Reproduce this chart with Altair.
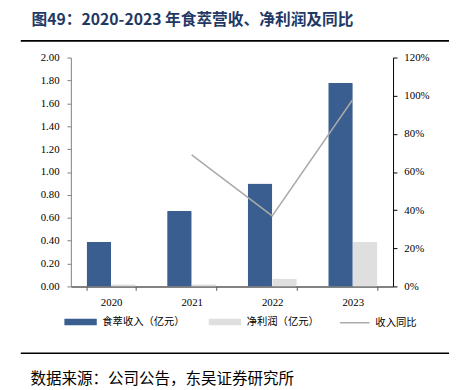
import altair as alt
import pandas as pd

years = ['2020', '2021', '2022', '2023']
revenue = [0.39, 0.66, 0.90, 1.78]
profit = [0.02, 0.02, 0.07, 0.39]
yoy_years = ['2021', '2022', '2023']
yoy = [0.69, 0.37, 0.98]
series = ['食萃收入（亿元）', '净利润（亿元）']
line_name = '收入同比'
title_text = '图49：2020-2023 年食萃营收、净利润及同比'
source_text = '数据来源：公司公告，东吴证券研究所'
left_ticks = [0, 0.2, 0.4, 0.6, 0.8, 1.0, 1.2, 1.4, 1.6, 1.8, 2.0]
right_ticks = [0, 0.2, 0.4, 0.6, 0.8, 1.0, 1.2]

bars_df = pd.DataFrame({
    'year': years * 2,
    'value': revenue + profit,
    'series': [series[0]] * len(years) + [series[1]] * len(years),
})
line_df = pd.DataFrame({'year': yoy_years, 'yoy': yoy, 'name': [line_name] * len(yoy_years)})

NUM_FONT = 'Liberation Serif'
CJK_FONT = 'Noto Sans CJK SC'

x_enc = alt.X('year:N', scale=alt.Scale(domain=years, paddingInner=0.39, paddingOuter=0.195),
              axis=alt.Axis(title=None, labelAngle=0, tickBand='extent', labelFont=NUM_FONT,
                            labelFontSize=11, labelColor='#000000', labelPadding=6,
                            domainColor='#595959', domainWidth=1.5, tickColor='#595959',
                            tickSize=4, tickWidth=1))

bars = alt.Chart(bars_df).mark_bar(cornerRadius=1).encode(
    x=x_enc,
    xOffset=alt.XOffset('series:N', scale=alt.Scale(domain=series, paddingInner=0, paddingOuter=0)),
    y=alt.Y('value:Q', scale=alt.Scale(domain=[0, 2], nice=False),
            axis=alt.Axis(title=None, values=left_ticks, format='.2f', grid=False,
                          labelFont=NUM_FONT, labelFontSize=11, labelColor='#000000',
                          labelPadding=8, domainColor='#7F7F7F', tickColor='#7F7F7F',
                          tickSize=4)),
    color=alt.Color('series:N', scale=alt.Scale(domain=series, range=['#3A5E8F', '#DFDFDF']),
                    legend=alt.Legend(title=None, orient='none', legendX=-7, legendY=262,
                                      direction='horizontal',
                                      symbolType='M-1,-0.5H4V0.5H-1Z', symbolSize=174,
                                      symbolStrokeWidth=0, labelOffset=25,
                                      labelFont=CJK_FONT, labelFontSize=10.5,
                                      labelColor='#000000', columnPadding=24)),
)

line = alt.Chart(line_df).mark_line(strokeWidth=1.5).encode(
    x=alt.X('year:N', scale=alt.Scale(domain=years)),
    y=alt.Y('yoy:Q', scale=alt.Scale(domain=[0, 1.2], nice=False),
            axis=alt.Axis(title=None, orient='right', values=right_ticks, format='.0%',
                          grid=False, labelFont=NUM_FONT, labelFontSize=11,
                          labelColor='#000000', labelPadding=7, domainColor='#000000',
                          tickColor='#000000', tickSize=4)),
    stroke=alt.Stroke('name:N', scale=alt.Scale(domain=[line_name], range=['#AAAAAA']),
                      legend=alt.Legend(title=None, orient='none', legendX=273, legendY=254,
                                        symbolType='stroke', symbolSize=900,
                                        symbolStrokeWidth=1.5, labelOffset=5,
                                        labelFont=CJK_FONT, labelFontSize=10.5,
                                        labelColor='#000000')),
)

deco_df = pd.DataFrame({'t': [title_text], 's': [source_text]})
title = alt.Chart(deco_df).mark_text(align='left', baseline='middle', font=CJK_FONT,
                                     fontSize=16, fontWeight='bold', color='#1F3864').encode(
    x=alt.value(-40), y=alt.value(-38), text='t:N')
source = alt.Chart(deco_df).mark_text(align='left', baseline='middle', font=CJK_FONT,
                                      fontSize=15.8, color='#000000').encode(
    x=alt.value(-41), y=alt.value(327), text='s:N')
rule_top = alt.Chart(deco_df).mark_rule(color='#000000', strokeWidth=1.8).encode(
    x=alt.value(-51), x2=alt.value(385), y=alt.value(-17))
rule_bot = alt.Chart(deco_df).mark_rule(color='#000000', strokeWidth=1.5).encode(
    x=alt.value(-51), x2=alt.value(385), y=alt.value(301))

chart = alt.layer(bars, line, title, source, rule_top, rule_bot).resolve_scale(
    y='independent'
).properties(
    width=328, height=233,
    autosize=alt.AutoSizeParams(type='none'),
    padding={'left': 64, 'top': 47, 'right': 59, 'bottom': 102},
).configure_view(stroke=None)

chart.save('out.html', embed_options={'renderer': 'svg', 'actions': False})
